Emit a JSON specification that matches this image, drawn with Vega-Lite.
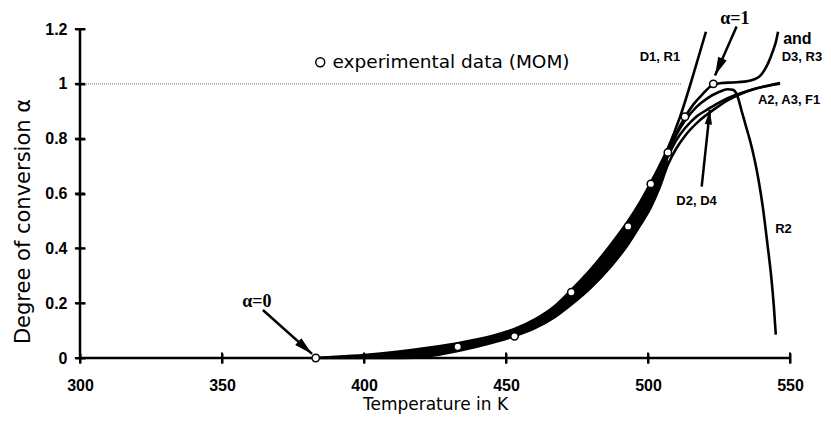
{
  "$schema": "https://vega.github.io/schema/vega-lite/v6.json",
  "width": 710,
  "height": 329,
  "autosize": {"type": "none"},
  "padding": {"left": 80, "top": 29, "right": 41, "bottom": 63},
  "background": "white",
  "view": {"stroke": null},
  "config": {
    "axis": {"domain": false, "grid": false, "offset": -5, "ticks": true, "tickSize": 10, "tickWidth": 2, "tickColor": "black", "tickOpacity": 1, "labelFlush": false,
      "labelFont": "Liberation Sans", "labelFontWeight": "bold", "labelFontSize": 16, "labelColor": "black",
      "titleFont": "DejaVu Sans", "titleFontWeight": "normal", "titleColor": "black"},
    "axisX": {"labelPadding": 14, "titleFontSize": 17},
    "axisY": {"labelPadding": 8, "titleFontSize": 21}
  },
  "datasets": {
    "frame": [{"T": 300, "a": 0}, {"T": 550, "a": 1.2}],
    "xticks": [{"T": 300}, {"T": 350}, {"T": 400}, {"T": 450}, {"T": 500}, {"T": 550}],
    "yticks": [{"a": 0}, {"a": 0.2}, {"a": 0.4}, {"a": 0.6}, {"a": 0.8}, {"a": 1}, {"a": 1.2}],
    "band": [
      {"T": 383, "lo": 0, "hi": 0},
      {"T": 390, "lo": 0, "hi": 0.004},
      {"T": 400, "lo": 0, "hi": 0.011},
      {"T": 410, "lo": 0, "hi": 0.021},
      {"T": 418, "lo": 0.001, "hi": 0.031},
      {"T": 425, "lo": 0.01, "hi": 0.041},
      {"T": 433, "lo": 0.026, "hi": 0.054},
      {"T": 440, "lo": 0.042, "hi": 0.068},
      {"T": 447, "lo": 0.061, "hi": 0.086},
      {"T": 453, "lo": 0.08, "hi": 0.106},
      {"T": 460, "lo": 0.108, "hi": 0.14},
      {"T": 467, "lo": 0.148, "hi": 0.188},
      {"T": 473, "lo": 0.195, "hi": 0.248},
      {"T": 480, "lo": 0.258, "hi": 0.325},
      {"T": 487, "lo": 0.335, "hi": 0.415},
      {"T": 493, "lo": 0.415, "hi": 0.5},
      {"T": 497, "lo": 0.48, "hi": 0.565},
      {"T": 501, "lo": 0.55, "hi": 0.64},
      {"T": 504, "lo": 0.62, "hi": 0.7},
      {"T": 507, "lo": 0.705, "hi": 0.765}
    ],
    "curves": [
      {"model": "D1R1", "T": 383, "a": 0}, {"model": "D1R1", "T": 390, "a": 0.004}, {"model": "D1R1", "T": 400, "a": 0.011}, {"model": "D1R1", "T": 410, "a": 0.021}, {"model": "D1R1", "T": 418, "a": 0.031}, {"model": "D1R1", "T": 425, "a": 0.041}, {"model": "D1R1", "T": 433, "a": 0.054}, {"model": "D1R1", "T": 440, "a": 0.068}, {"model": "D1R1", "T": 447, "a": 0.086}, {"model": "D1R1", "T": 453, "a": 0.106}, {"model": "D1R1", "T": 460, "a": 0.14}, {"model": "D1R1", "T": 467, "a": 0.188}, {"model": "D1R1", "T": 473, "a": 0.248}, {"model": "D1R1", "T": 480, "a": 0.325}, {"model": "D1R1", "T": 487, "a": 0.415}, {"model": "D1R1", "T": 493, "a": 0.5}, {"model": "D1R1", "T": 497, "a": 0.565}, {"model": "D1R1", "T": 501, "a": 0.64}, {"model": "D1R1", "T": 504, "a": 0.7}, {"model": "D1R1", "T": 507, "a": 0.765}, {"model": "D1R1", "T": 511.3, "a": 0.88}, {"model": "D1R1", "T": 516, "a": 1.035}, {"model": "D1R1", "T": 520.4, "a": 1.19},
      {"model": "A2A3F1", "T": 383, "a": 0}, {"model": "A2A3F1", "T": 400, "a": 0}, {"model": "A2A3F1", "T": 410, "a": 0}, {"model": "A2A3F1", "T": 418, "a": 0.001}, {"model": "A2A3F1", "T": 425, "a": 0.01}, {"model": "A2A3F1", "T": 433, "a": 0.026}, {"model": "A2A3F1", "T": 440, "a": 0.042}, {"model": "A2A3F1", "T": 447, "a": 0.061}, {"model": "A2A3F1", "T": 453, "a": 0.08}, {"model": "A2A3F1", "T": 460, "a": 0.108}, {"model": "A2A3F1", "T": 467, "a": 0.148}, {"model": "A2A3F1", "T": 473, "a": 0.195}, {"model": "A2A3F1", "T": 480, "a": 0.258}, {"model": "A2A3F1", "T": 487, "a": 0.335}, {"model": "A2A3F1", "T": 493, "a": 0.415}, {"model": "A2A3F1", "T": 497, "a": 0.48}, {"model": "A2A3F1", "T": 501, "a": 0.55}, {"model": "A2A3F1", "T": 504, "a": 0.62}, {"model": "A2A3F1", "T": 507, "a": 0.705}, {"model": "A2A3F1", "T": 510, "a": 0.765}, {"model": "A2A3F1", "T": 513, "a": 0.81}, {"model": "A2A3F1", "T": 518, "a": 0.865}, {"model": "A2A3F1", "T": 523, "a": 0.905}, {"model": "A2A3F1", "T": 528, "a": 0.94}, {"model": "A2A3F1", "T": 533, "a": 0.965}, {"model": "A2A3F1", "T": 538, "a": 0.983}, {"model": "A2A3F1", "T": 542, "a": 0.993}, {"model": "A2A3F1", "T": 546.5, "a": 1.003},
      {"model": "D3R3", "T": 497, "a": 0.53}, {"model": "D3R3", "T": 501, "a": 0.61}, {"model": "D3R3", "T": 504, "a": 0.68}, {"model": "D3R3", "T": 507, "a": 0.75}, {"model": "D3R3", "T": 510, "a": 0.82}, {"model": "D3R3", "T": 513, "a": 0.878}, {"model": "D3R3", "T": 516, "a": 0.925}, {"model": "D3R3", "T": 519, "a": 0.96}, {"model": "D3R3", "T": 523, "a": 0.997}, {"model": "D3R3", "T": 526, "a": 1.003}, {"model": "D3R3", "T": 530, "a": 1.005}, {"model": "D3R3", "T": 534, "a": 1.008}, {"model": "D3R3", "T": 537, "a": 1.015}, {"model": "D3R3", "T": 539.4, "a": 1.028}, {"model": "D3R3", "T": 541, "a": 1.05}, {"model": "D3R3", "T": 542.5, "a": 1.08}, {"model": "D3R3", "T": 544, "a": 1.12}, {"model": "D3R3", "T": 545, "a": 1.152}, {"model": "D3R3", "T": 545.8, "a": 1.19},
      {"model": "R2", "T": 497, "a": 0.54}, {"model": "R2", "T": 501, "a": 0.62}, {"model": "R2", "T": 504, "a": 0.69}, {"model": "R2", "T": 507, "a": 0.752}, {"model": "R2", "T": 510, "a": 0.815}, {"model": "R2", "T": 513, "a": 0.865}, {"model": "R2", "T": 517, "a": 0.915}, {"model": "R2", "T": 521, "a": 0.948}, {"model": "R2", "T": 525, "a": 0.97}, {"model": "R2", "T": 528, "a": 0.98}, {"model": "R2", "T": 530, "a": 0.978}, {"model": "R2", "T": 531.5, "a": 0.955}, {"model": "R2", "T": 533, "a": 0.9}, {"model": "R2", "T": 534.5, "a": 0.845}, {"model": "R2", "T": 536, "a": 0.79}, {"model": "R2", "T": 537.5, "a": 0.725}, {"model": "R2", "T": 539, "a": 0.645}, {"model": "R2", "T": 540.5, "a": 0.545}, {"model": "R2", "T": 542, "a": 0.42}, {"model": "R2", "T": 543.5, "a": 0.285}, {"model": "R2", "T": 544.3, "a": 0.19}, {"model": "R2", "T": 545, "a": 0.085},
      {"model": "D2D4", "T": 497, "a": 0.51}, {"model": "D2D4", "T": 501, "a": 0.59}, {"model": "D2D4", "T": 504, "a": 0.665}, {"model": "D2D4", "T": 507, "a": 0.735}, {"model": "D2D4", "T": 510, "a": 0.795}, {"model": "D2D4", "T": 513, "a": 0.838}, {"model": "D2D4", "T": 517, "a": 0.88}, {"model": "D2D4", "T": 521.8, "a": 0.912}, {"model": "D2D4", "T": 526, "a": 0.937}, {"model": "D2D4", "T": 531, "a": 0.96}, {"model": "D2D4", "T": 536, "a": 0.977}, {"model": "D2D4", "T": 541, "a": 0.99}, {"model": "D2D4", "T": 546.5, "a": 1.0}
    ],
    "points": [
      {"src": "experimental data (MOM)", "T": 383, "a": 0},
      {"src": "experimental data (MOM)", "T": 433, "a": 0.041},
      {"src": "experimental data (MOM)", "T": 453, "a": 0.079},
      {"src": "experimental data (MOM)", "T": 473, "a": 0.24},
      {"src": "experimental data (MOM)", "T": 493, "a": 0.48},
      {"src": "experimental data (MOM)", "T": 501, "a": 0.635},
      {"src": "experimental data (MOM)", "T": 507, "a": 0.75},
      {"src": "experimental data (MOM)", "T": 513, "a": 0.88},
      {"src": "experimental data (MOM)", "T": 523, "a": 1.0}
    ],
    "arrows": [
      {"name": "a0", "T": 364.4, "a": 0.175, "T2": 381.7, "a2": 0.015},
      {"name": "a1", "T": 531.2, "a": 1.209, "T2": 523.6, "a2": 1.03},
      {"name": "d2", "T": 518.9, "a": 0.625, "T2": 521.8, "a2": 0.905}
    ]
  },
  "layer": [
    {
      "data": {"name": "frame"},
      "mark": {"type": "point", "opacity": 0},
      "encoding": {
        "x": {"field": "T", "type": "quantitative", "scale": {"domain": [300, 550], "nice": false, "zero": false},
          "axis": {"values": [300, 350, 400, 450, 500, 550], "title": "Temperature in K", "titleX": 355, "titleY": 51, "titleAlign": "center", "titleBaseline": "middle"}},
        "y": {"field": "a", "type": "quantitative", "scale": {"domain": [0, 1.2], "nice": false},
          "axis": {"values": [0, 0.2, 0.4, 0.6, 0.8, 1, 1.2], "format": "~g", "title": "Degree of conversion α", "titleX": -62, "titleY": 192, "titleAngle": 270, "titleAlign": "center", "titleBaseline": "middle"}}
      }
    },
    {
      "data": {"values": [{"T": 300, "T2": 512, "a": 1}]},
      "mark": {"type": "rule", "color": "#777777", "strokeWidth": 1, "strokeDash": [1, 1]},
      "encoding": {
        "x": {"field": "T", "type": "quantitative"},
        "x2": {"field": "T2"},
        "y": {"field": "a", "type": "quantitative"}
      }
    },
    {
      "data": {"name": "band"},
      "mark": {"type": "area", "color": "black", "interpolate": "monotone"},
      "encoding": {
        "x": {"field": "T", "type": "quantitative"},
        "y": {"field": "lo", "type": "quantitative"},
        "y2": {"field": "hi"}
      }
    },
    {
      "data": {"name": "curves"},
      "mark": {"type": "line", "color": "black", "strokeWidth": 2.6, "interpolate": "monotone"},
      "encoding": {
        "x": {"field": "T", "type": "quantitative"},
        "y": {"field": "a", "type": "quantitative"},
        "detail": {"field": "model", "type": "nominal"}
      }
    },
    {
      "data": {"values": [{"T": 300, "T2": 550, "a": 0}]},
      "mark": {"type": "rule", "color": "black", "strokeWidth": 2.5},
      "encoding": {
        "x": {"field": "T", "type": "quantitative"},
        "x2": {"field": "T2"},
        "y": {"field": "a", "type": "quantitative"}
      }
    },
    {
      "data": {"values": [{"T": 300, "a": 0, "a2": 1.2}]},
      "mark": {"type": "rule", "color": "black", "strokeWidth": 2.5},
      "encoding": {
        "x": {"field": "T", "type": "quantitative"},
        "y": {"field": "a", "type": "quantitative"},
        "y2": {"field": "a2"}
      }
    },
    {
      "data": {"name": "xticks"},
      "mark": {"type": "rule", "color": "black", "strokeWidth": 2},
      "encoding": {
        "x": {"field": "T", "type": "quantitative"},
        "y": {"datum": -0.02},
        "y2": {"datum": 0.02}
      }
    },
    {
      "data": {"name": "yticks"},
      "mark": {"type": "rule", "color": "black", "strokeWidth": 2},
      "encoding": {
        "x": {"datum": 298.2},
        "x2": {"datum": 301.8},
        "y": {"field": "a", "type": "quantitative"}
      }
    },
    {
      "data": {"name": "arrows"},
      "mark": {"type": "rule", "color": "black", "strokeWidth": 2.5},
      "encoding": {
        "x": {"field": "T", "type": "quantitative"},
        "y": {"field": "a", "type": "quantitative"},
        "x2": {"field": "T2"},
        "y2": {"field": "a2"}
      }
    },
    {
      "data": {"name": "arrows"},
      "transform": [{"filter": "datum.name === 'a0'"}],
      "mark": {"type": "point", "shape": "M0,0L0.45,1.8L-0.45,1.8Z", "filled": true, "color": "black", "opacity": 1, "size": 420, "angle": 131.8},
      "encoding": {"x": {"field": "T2", "type": "quantitative"}, "y": {"field": "a2", "type": "quantitative"}}
    },
    {
      "data": {"name": "arrows"},
      "transform": [{"filter": "datum.name === 'a1'"}],
      "mark": {"type": "point", "shape": "M0,0L0.45,1.8L-0.45,1.8Z", "filled": true, "color": "black", "opacity": 1, "size": 420, "angle": 203.7},
      "encoding": {"x": {"field": "T2", "type": "quantitative"}, "y": {"field": "a2", "type": "quantitative"}}
    },
    {
      "data": {"name": "arrows"},
      "transform": [{"filter": "datum.name === 'd2'"}],
      "mark": {"type": "point", "shape": "M0,0L0.45,1.8L-0.45,1.8Z", "filled": true, "color": "black", "opacity": 1, "size": 260, "angle": 6.1},
      "encoding": {"x": {"field": "T2", "type": "quantitative"}, "y": {"field": "a2", "type": "quantitative"}}
    },
    {
      "data": {"name": "points"},
      "mark": {"type": "point", "filled": true, "fill": "white", "stroke": "black", "strokeWidth": 1.5, "size": 55, "opacity": 1},
      "encoding": {
        "x": {"field": "T", "type": "quantitative"},
        "y": {"field": "a", "type": "quantitative"},
        "shape": {"field": "src", "type": "nominal", "scale": {"range": ["circle"]},
          "legend": {"orient": "none", "legendX": 231, "legendY": 24, "title": null, "padding": 0,
            "labelFont": "DejaVu Sans", "labelFontSize": 18.5, "labelColor": "black", "labelOffset": 3, "labelLimit": 400,
            "symbolSize": 80, "symbolType": "circle",
            "encode": {"symbols": {"update": {"fill": {"value": "white"}, "stroke": {"value": "black"}, "strokeWidth": {"value": 2}, "opacity": {"value": 1}}}}}}
      }
    },
    {
      "data": {"values": [{"label": "α=0", "T": 362.3, "a": 0.204}, {"label": "α=1", "T": 530.6, "a": 1.237}]},
      "mark": {"type": "text", "font": "Liberation Serif", "fontSize": 18, "fontWeight": "bold", "color": "black", "align": "center", "baseline": "middle"},
      "encoding": {"x": {"field": "T", "type": "quantitative"}, "y": {"field": "a", "type": "quantitative"}, "text": {"field": "label"}}
    },
    {
      "data": {"values": [{"label": "D1, R1", "T": 504.2, "a": 1.097}, {"label": "D3, R3", "T": 554.2, "a": 1.097}, {"label": "D2, D4", "T": 517.1, "a": 0.574}, {"label": "R2", "T": 547.7, "a": 0.469}]},
      "mark": {"type": "text", "font": "Liberation Sans", "fontWeight": "bold", "fontSize": 13, "color": "black", "align": "center", "baseline": "middle"},
      "encoding": {"x": {"field": "T", "type": "quantitative"}, "y": {"field": "a", "type": "quantitative"}, "text": {"field": "label"}}
    },
    {
      "data": {"values": [{"label": "A2, A3, F1", "T": 538.7, "a": 0.941}]},
      "mark": {"type": "text", "font": "Liberation Sans", "fontWeight": "bold", "fontSize": 13, "color": "black", "align": "left", "baseline": "middle"},
      "encoding": {"x": {"field": "T", "type": "quantitative"}, "y": {"field": "a", "type": "quantitative"}, "text": {"field": "label"}}
    },
    {
      "data": {"values": [{"label": "and", "T": 552.6, "a": 1.162}]},
      "mark": {"type": "text", "font": "Liberation Sans", "fontWeight": "bold", "fontSize": 16, "color": "black", "align": "center", "baseline": "middle"},
      "encoding": {"x": {"field": "T", "type": "quantitative"}, "y": {"field": "a", "type": "quantitative"}, "text": {"field": "label"}}
    }
  ]
}
